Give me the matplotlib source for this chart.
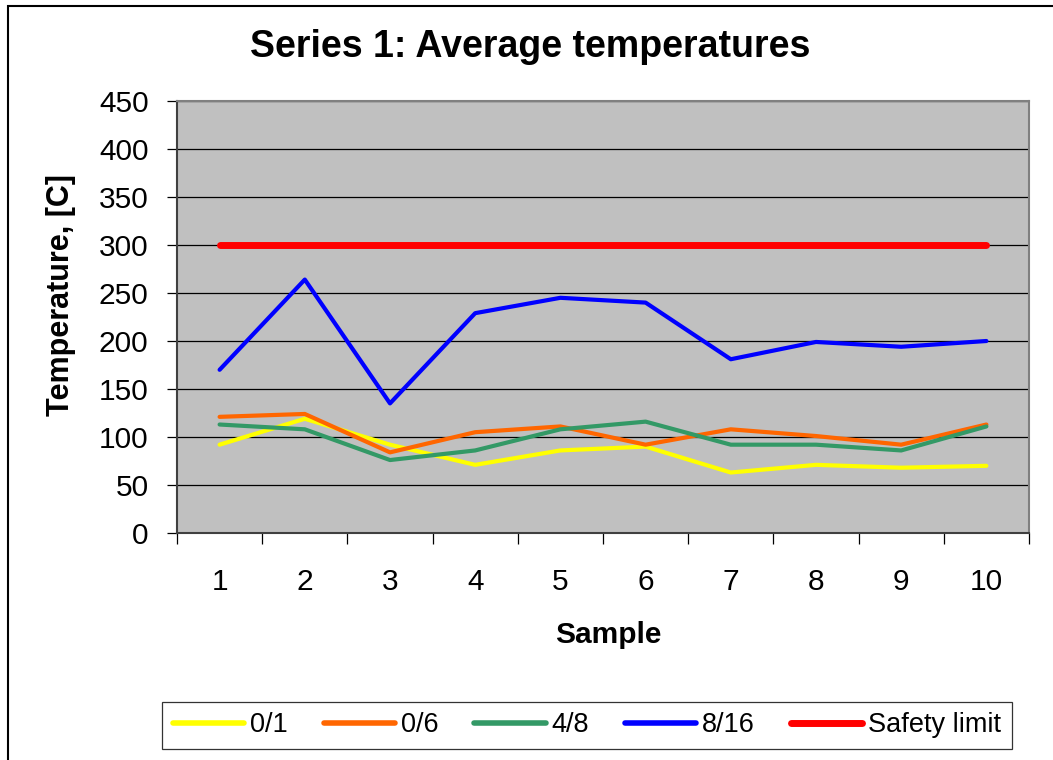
import matplotlib
matplotlib.use("Agg")
import matplotlib.pyplot as plt
from matplotlib.patches import Rectangle

plt.rcParams['font.family'] = ['Liberation Sans', 'DejaVu Sans']

samples = [1, 2, 3, 4, 5, 6, 7, 8, 9, 10]
s_0_1 = [92, 119, 92, 71, 86, 90, 63, 71, 68, 70]
s_0_6 = [121, 124, 84, 105, 111, 92, 108, 101, 92, 113]
s_4_8 = [113, 108, 76, 86, 108, 116, 92, 92, 86, 111]
s_8_16 = [170, 264, 135, 229, 245, 240, 181, 199, 194, 200]
safety = [300] * 10
yticks = [0, 50, 100, 150, 200, 250, 300, 350, 400, 450]

fig = plt.figure(figsize=(10.53, 7.6), dpi=100)
ax = fig.add_axes([177/1053, 1 - 533/760, (1029-177)/1053, (533-101)/760])
ax.set_facecolor('#C0C0C0')

lw = 3.0
ax.plot(samples, s_0_1, color='#FFFF00', lw=lw, label='0/1', solid_capstyle='round')
ax.plot(samples, s_0_6, color='#FF6600', lw=lw, label='0/6', solid_capstyle='round')
ax.plot(samples, s_4_8, color='#339966', lw=lw, label='4/8', solid_capstyle='round')
ax.plot(samples, s_8_16, color='#0000FF', lw=lw, label='8/16', solid_capstyle='round')
ax.plot(samples, safety, color='#FF0000', lw=5, label='Safety limit', solid_capstyle='round')

ax.set_xlim(0.5, 10.5)
ax.set_ylim(0, 450)
ax.set_yticks(yticks)
ax.yaxis.grid(True, color='black', lw=0.9)
ax.set_axisbelow(True)

ax.set_xticks(samples)
ax.set_xticklabels([str(s) for s in samples], fontsize=21.5)
ax.set_xticks([i + 0.5 for i in range(0, 11)], minor=True)
ax.tick_params(axis='x', which='major', length=0, pad=25.5)
ax.tick_params(axis='x', which='minor', length=8, width=0.9, direction='out')
ax.tick_params(axis='y', labelsize=21.5, length=7.5, width=0.9, pad=13)

for sp in ['top', 'right']:
    ax.spines[sp].set_color('#808080')
    ax.spines[sp].set_linewidth(1.5)
for sp in ['left', 'bottom']:
    ax.spines[sp].set_color('#404040')
    ax.spines[sp].set_linewidth(1.5)

ax.set_xlabel('Sample', fontsize=21.5, fontweight='bold')
ax.xaxis.set_label_coords((608-177)/852, (533-621)/432)
ax.set_ylabel('Temperature, [C]', fontsize=22, fontweight='bold')
ax.yaxis.set_label_coords((76-177)/852, (533-295)/432)
fig.text(530/1053, 1 - 47/760, 'Series 1: Average temperatures', fontsize=27,
         fontweight='bold', ha='center', va='center')

leg = fig.legend(loc='center', bbox_to_anchor=(587/1053, 1 - 725.5/760), ncol=5,
                 fontsize=19.5, frameon=True, fancybox=False, edgecolor='black',
                 handlelength=2.63, handletextpad=0.22, columnspacing=1.33,
                 borderpad=0.4, borderaxespad=0)
leg.get_frame().set_linewidth(0.9)
for line, lwv in zip(leg.get_lines(), [4, 4, 4, 4, 5]):
    line.set_linewidth(lwv)

fig.patches.append(Rectangle((8/1053, 1 - 775/760), (1070-8)/1053, (775-6)/760,
                             transform=fig.transFigure, fill=False,
                             edgecolor='black', lw=1.5))

fig.savefig('out.png', dpi=100)
